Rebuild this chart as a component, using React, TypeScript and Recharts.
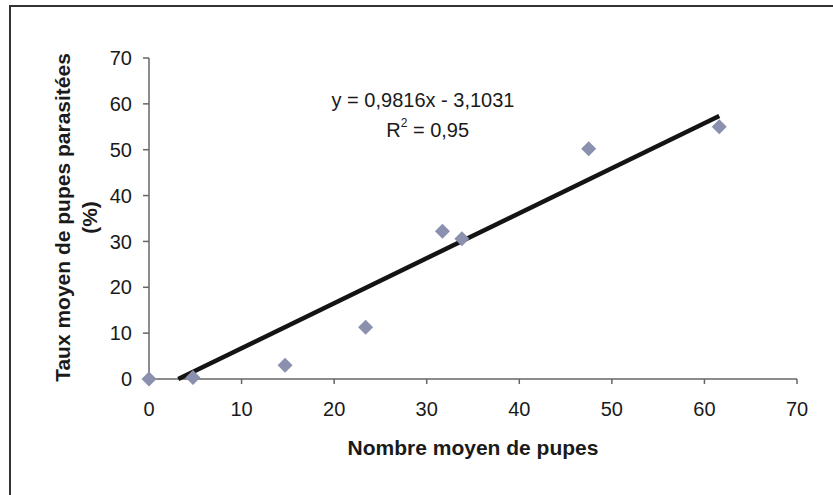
import React from 'react';
import { ScatterChart, Scatter, XAxis, YAxis, ReferenceDot } from 'recharts';

const meanPupae = [0, 4.75, 14.7, 23.4, 31.7, 33.8, 47.5, 61.6];
const parasitizedRate = [0, 0.3, 3.0, 11.3, 32.2, 30.6, 50.2, 55.0];
const axisTicks = [0, 10, 20, 30, 40, 50, 60, 70];
const slope = 0.9816;
const intercept = -3.1031;
const equationText = 'y = 0,9816x - 3,1031';
const r2Value = '0,95';
const xAxisTitle = 'Nombre moyen de pupes';
const yAxisTitleLine1 = 'Taux moyen de pupes parasitées';
const yAxisTitleLine2 = '(%)';

const points = meanPupae.map((x, i) => ({ x, y: parasitizedRate[i] }));
const xMin = Math.max(Math.min(...meanPupae), -intercept / slope);
const xMax = Math.max(...meanPupae);
const trend = [xMin, xMax].map((x) => ({ x, y: slope * x + intercept }));

const FONT = '"Liberation Sans", Arial, sans-serif';

const Diamond = (props: any) => {
  const { cx, cy } = props;
  if (cx == null || cy == null) return null;
  const h = 7.5;
  return (
    <polygon
      points={`${cx},${cy - h} ${cx + h},${cy} ${cx},${cy + h} ${cx - h},${cy}`}
      fill="#8a90ae"
    />
  );
};

const NoShape = () => null;

const YTitle = (props: any) => {
  const vb = props.viewBox || {};
  const cy = vb.y + vb.height / 2 - 1;
  return (
    <g fontFamily={FONT} fontWeight="bold" fontSize={21} fill="#1a1a1a">
      <text x={62} y={cy} transform={`rotate(-90 62 ${cy})`} textAnchor="middle" dominantBaseline="central">
        {yAxisTitleLine1}
      </text>
      <text x={89} y={cy} transform={`rotate(-90 89 ${cy})`} textAnchor="middle" dominantBaseline="central">
        {yAxisTitleLine2}
      </text>
    </g>
  );
};

const XTitle = (props: any) => {
  const vb = props.viewBox || {};
  return (
    <text
      x={vb.x + vb.width / 2}
      y={vb.y + 68}
      textAnchor="middle"
      dominantBaseline="central"
      fontFamily={FONT}
      fontWeight="bold"
      fontSize={21}
      fill="#1a1a1a"
    >
      {xAxisTitle}
    </text>
  );
};

const EqLabel = (props: any) => {
  const vb = props.viewBox || {};
  const cx = vb.x + (vb.width || 0) / 2;
  const cy = vb.y + (vb.height || 0) / 2;
  return (
    <text x={cx} y={cy} textAnchor="middle" dominantBaseline="central" fontFamily={FONT} fontSize={20} fill="#1a1a1a">
      {equationText}
    </text>
  );
};

const R2Label = (props: any) => {
  const vb = props.viewBox || {};
  const cx = vb.x + (vb.width || 0) / 2;
  const cy = vb.y + (vb.height || 0) / 2;
  return (
    <text x={cx} y={cy} textAnchor="middle" dominantBaseline="central" fontFamily={FONT} fontSize={20} fill="#1a1a1a">
      R
      <tspan fontSize={12} dy={-7}>2</tspan>
      <tspan dy={7}>{' = ' + r2Value}</tspan>
    </text>
  );
};

export default function App() {
  return (
    <div style={{ position: 'absolute', left: 0, top: 0, width: 833, height: 495, background: '#fff', overflow: 'hidden' }}>
      <div
        style={{
          position: 'absolute',
          left: 9,
          top: 5,
          width: 900,
          height: 600,
          borderLeft: '2px solid #333',
          borderTop: '2px solid #333',
        }}
      />
      <div style={{ position: 'absolute', left: 0, top: 0 }}>
        <ScatterChart width={833} height={495} margin={{ top: 58, right: 36, bottom: 36, left: 0 }}>
          <XAxis
            type="number"
            dataKey="x"
            domain={[0, 70]}
            ticks={axisTicks}
            interval={0}
            height={80}
            stroke="#666"
            strokeWidth={1.5}
            tickSize={5}
            tickMargin={18}
            tick={{ fill: '#1a1a1a', fontSize: 20, fontFamily: FONT }}
            label={<XTitle />}
          />
          <YAxis
            type="number"
            dataKey="y"
            domain={[0, 70]}
            ticks={axisTicks}
            interval={0}
            width={149}
            stroke="#666"
            strokeWidth={1.5}
            tickSize={6}
            tickMargin={11}
            tick={{ fill: '#1a1a1a', fontSize: 20, fontFamily: FONT }}
            label={<YTitle />}
          />
          <Scatter
            data={trend}
            line={{ stroke: '#141414', strokeWidth: 4.5 }}
            shape={<NoShape />}
            isAnimationActive={false}
          />
          <Scatter data={points} shape={<Diamond />} isAnimationActive={false} />
          <ReferenceDot x={29.6} y={60.8} r={0} stroke="none" fill="none" label={<EqLabel />} />
          <ReferenceDot x={30.1} y={54.3} r={0} stroke="none" fill="none" label={<R2Label />} />
        </ScatterChart>
      </div>
    </div>
  );
}
